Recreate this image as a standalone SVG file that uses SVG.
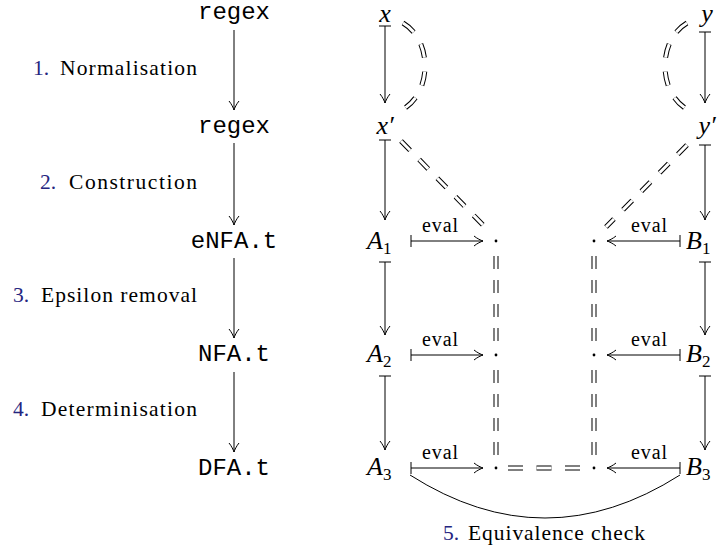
<svg xmlns="http://www.w3.org/2000/svg" xmlns:xlink="http://www.w3.org/1999/xlink" width="722" height="552" viewBox="0 0 722 552">
<style>
.tt{font-family:"Liberation Mono","DejaVu Sans Mono",monospace;font-size:24px;text-anchor:middle;fill:#000}
.m{font-family:"Liberation Serif","DejaVu Serif",serif;font-style:italic;font-size:26px;fill:#000}
.sub{font-style:normal;font-size:17px}
.lbl{font-family:"Liberation Serif","DejaVu Serif",serif;font-size:21.5px;fill:#000}
.num{fill:#25257f}
.ev{font-family:"Liberation Serif","DejaVu Serif",serif;font-size:20px;fill:#000}
.ar{stroke:#000;stroke-width:1;fill:none}
.ddo{stroke:#000;stroke-width:5;fill:none}
.ddi{stroke:#fff;stroke-width:3;fill:none}
</style>
<defs>
<marker id="head" markerUnits="userSpaceOnUse" markerWidth="20" markerHeight="20" refX="0" refY="0" orient="auto" overflow="visible">
<path d="M -9 -5 C -6 -2.5, -2 -0.6, 0 0 C -2 0.6, -6 2.5, -9 5" fill="none" stroke="#000" stroke-width="1"/>
</marker>
<marker id="bar" markerUnits="userSpaceOnUse" markerWidth="20" markerHeight="20" refX="0" refY="0" orient="auto" overflow="visible">
<path d="M 0 -6 V 6" fill="none" stroke="#000" stroke-width="1"/>
</marker>
<path id="cL" d="M 403 23 C 432 40, 432 90, 405 108"/>
<path id="cR" d="M 687 23 C 658 40, 658 90, 685 108"/>
<path id="dL" d="M 401 141 L 485 227"/>
<path id="dR" d="M 687 145 L 606 227"/>
<path id="vL1" d="M 496 256 V 341"/>
<path id="vL2" d="M 496 370 V 455"/>
<path id="vR1" d="M 594 256 V 341"/>
<path id="vR2" d="M 594 370 V 455"/>
<path id="hB" d="M 508 468 H 580"/>
</defs>

<g id="left-column">
<g id="n-regex0"><text class="tt" x="234" y="19">regex</text></g>
<g id="n-regex1"><text class="tt" x="234" y="133">regex</text></g>
<g id="n-enfa"><text class="tt" x="234" y="248">eNFA.t</text></g>
<g id="n-nfa"><text class="tt" x="234" y="361">NFA.t</text></g>
<g id="n-dfa"><text class="tt" x="234" y="475">DFA.t</text></g>
</g>

<g id="labels">
<g id="l1"><text class="lbl num" x="33" y="75">1.</text><text class="lbl" x="60" y="75" textLength="137" lengthAdjust="spacing">Normalisation</text></g>
<g id="l2"><text class="lbl num" x="40" y="189">2.</text><text class="lbl" x="69" y="189" textLength="128" lengthAdjust="spacing">Construction</text></g>
<g id="l3"><text class="lbl num" x="13" y="302">3.</text><text class="lbl" x="41" y="302" textLength="156" lengthAdjust="spacing">Epsilon removal</text></g>
<g id="l4"><text class="lbl num" x="13" y="416">4.</text><text class="lbl" x="41" y="416" textLength="156" lengthAdjust="spacing">Determinisation</text></g>
<g id="l5"><text class="lbl num" x="443" y="540">5.</text><text class="lbl" x="468" y="540" textLength="177" lengthAdjust="spacing">Equivalence check</text></g>
</g>

<g id="math-nodes">
<g id="n-x"><text class="m" x="385" y="22" text-anchor="middle">x</text></g>
<g id="n-xp"><text class="m" x="385" y="134" text-anchor="middle">x′</text></g>
<g id="n-A1"><text class="m" x="367" y="249">A<tspan class="sub" dy="5">1</tspan></text></g>
<g id="n-A2"><text class="m" x="367" y="362">A<tspan class="sub" dy="5">2</tspan></text></g>
<g id="n-A3"><text class="m" x="367" y="475">A<tspan class="sub" dy="5">3</tspan></text></g>
<g id="n-y"><text class="m" x="707" y="22" text-anchor="middle">y</text></g>
<g id="n-yp"><text class="m" x="707" y="134" text-anchor="middle">y′</text></g>
<g id="n-B1"><text class="m" x="686" y="249">B<tspan class="sub" dy="5">1</tspan></text></g>
<g id="n-B2"><text class="m" x="686" y="362">B<tspan class="sub" dy="5">2</tspan></text></g>
<g id="n-B3"><text class="m" x="686" y="475">B<tspan class="sub" dy="5">3</tspan></text></g>
<g id="dots">
<circle cx="496" cy="241" r="1.4"/><circle cx="594" cy="241" r="1.4"/>
<circle cx="496" cy="355" r="1.4"/><circle cx="594" cy="355" r="1.4"/>
<circle cx="496" cy="468" r="1.4"/><circle cx="594" cy="468" r="1.4"/>
</g>
</g>

<g id="connectors">
<g id="left-arrows">
<path class="ar" d="M 234 30 V 110" marker-end="url(#head)"/>
<path class="ar" d="M 234 143 V 225" marker-end="url(#head)"/>
<path class="ar" d="M 234 258 V 338" marker-end="url(#head)"/>
<path class="ar" d="M 234 372 V 452" marker-end="url(#head)"/>
</g>
<g id="mapsto">
<path class="ar" d="M 385 26 V 103" marker-start="url(#bar)" marker-end="url(#head)"/>
<path class="ar" d="M 385 140 V 220" marker-start="url(#bar)" marker-end="url(#head)"/>
<path class="ar" d="M 385 262 V 335" marker-start="url(#bar)" marker-end="url(#head)"/>
<path class="ar" d="M 385 376 V 450" marker-start="url(#bar)" marker-end="url(#head)"/>
<path class="ar" d="M 705 32 V 103" marker-start="url(#bar)" marker-end="url(#head)"/>
<path class="ar" d="M 705 145 V 220" marker-start="url(#bar)" marker-end="url(#head)"/>
<path class="ar" d="M 705 262 V 335" marker-start="url(#bar)" marker-end="url(#head)"/>
<path class="ar" d="M 705 376 V 450" marker-start="url(#bar)" marker-end="url(#head)"/>
<path class="ar" d="M 411 241 H 483" marker-start="url(#bar)" marker-end="url(#head)"/>
<path class="ar" d="M 411 355 H 483" marker-start="url(#bar)" marker-end="url(#head)"/>
<path class="ar" d="M 411 468 H 483" marker-start="url(#bar)" marker-end="url(#head)"/>
<path class="ar" d="M 680 241 H 607" marker-start="url(#bar)" marker-end="url(#head)"/>
<path class="ar" d="M 680 355 H 607" marker-start="url(#bar)" marker-end="url(#head)"/>
<path class="ar" d="M 680 468 H 607" marker-start="url(#bar)" marker-end="url(#head)"/>
<text class="ev" x="422" y="232" textLength="36" lengthAdjust="spacing">eval</text>
<text class="ev" x="422" y="346" textLength="36" lengthAdjust="spacing">eval</text>
<text class="ev" x="422" y="459" textLength="36" lengthAdjust="spacing">eval</text>
<text class="ev" x="631" y="232" textLength="36" lengthAdjust="spacing">eval</text>
<text class="ev" x="631" y="346" textLength="36" lengthAdjust="spacing">eval</text>
<text class="ev" x="631" y="459" textLength="36" lengthAdjust="spacing">eval</text>
</g>
<g id="equalities">
<g style="stroke-dasharray:14 14">
<use xlink:href="#cL" class="ddo"/><use xlink:href="#cL" class="ddi"/>
<use xlink:href="#cR" class="ddo"/><use xlink:href="#cR" class="ddi"/>
</g>
<g style="stroke-dasharray:13 13">
<use xlink:href="#dL" class="ddo"/><use xlink:href="#dL" class="ddi"/>
<use xlink:href="#dR" class="ddo"/><use xlink:href="#dR" class="ddi"/>
</g>
<g style="stroke-dasharray:13 11">
<use xlink:href="#vL1" class="ddo"/><use xlink:href="#vL1" class="ddi"/>
<use xlink:href="#vL2" class="ddo"/><use xlink:href="#vL2" class="ddi"/>
<use xlink:href="#vR1" class="ddo"/><use xlink:href="#vR1" class="ddi"/>
<use xlink:href="#vR2" class="ddo"/><use xlink:href="#vR2" class="ddi"/>
</g>
<g style="stroke-dasharray:15 13.5">
<use xlink:href="#hB" class="ddo"/><use xlink:href="#hB" class="ddi"/>
</g>
</g>
<path id="equiv" class="ar" d="M 410 475 Q 545 561 680 475"/>
</g>
</svg>
